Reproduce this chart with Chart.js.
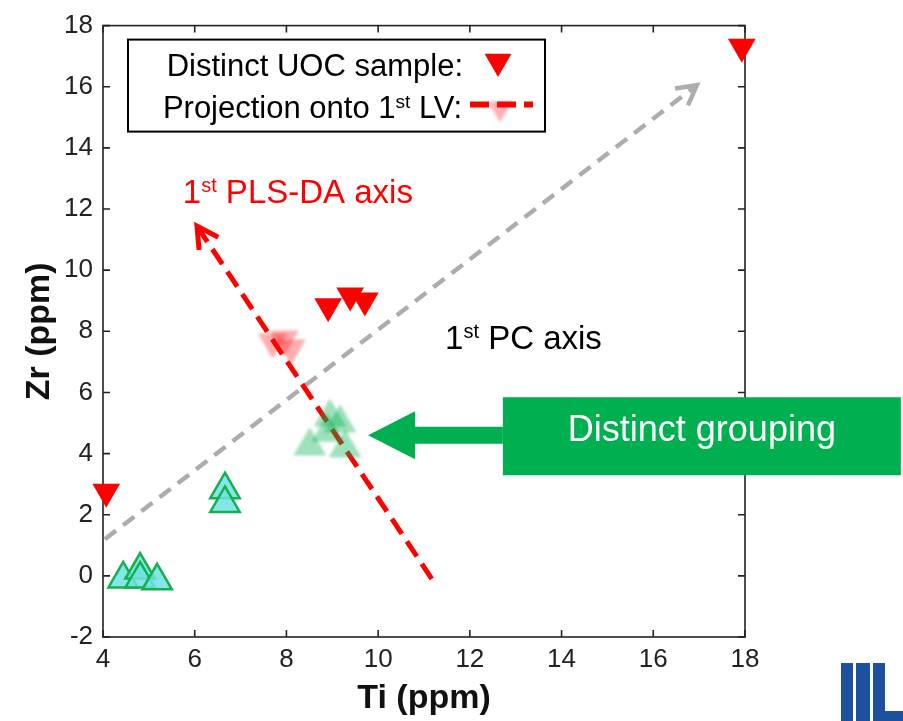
<!DOCTYPE html>
<html>
<head>
<meta charset="utf-8">
<title>Ti vs Zr</title>
<script src="https://cdn.jsdelivr.net/npm/chart.js@4.4.1/dist/chart.umd.min.js"></script>
<style>
  html, body { margin: 0; padding: 0; background: #fff; overflow: hidden; }
  #wrap { width: 903px; height: 721px; position: relative; }
</style>
</head>
<body>
<div id="wrap"><canvas id="chart"></canvas></div>
<script>
  // Ti / Zr concentrations (ppm)
  const uocTi = [4.07, 8.91, 9.39, 9.71, 17.93];
  const uocZr = [2.75, 8.82, 9.17, 9.01, 17.31];

  const projTi = [7.7, 7.95, 8.1];
  const projZr = [7.65, 7.75, 7.45];

  const groupTi = [8.95, 9.17, 8.9, 8.51, 9.28];
  const groupZr = [5.19, 5.0, 4.7, 4.25, 4.18];

  const otherTi = [6.66, 6.66, 4.44, 4.81, 4.81, 5.18];
  const otherZr = [2.82, 2.37, -0.1, 0.19, -0.1, -0.16];

  // axis directions, start -> arrow tip
  const pcAxisTi = [4.04, 16.95];
  const pcAxisZr = [1.2, 16.05];
  const plsAxisTi = [11.17, 6.05];
  const plsAxisZr = [-0.1, 11.44];

  // green callout arrow: tip, then tail where the label box starts
  const calloutTi = [9.78, 12.72];
  const calloutZr = [4.6, 4.6];

  const xTicks = [4, 6, 8, 10, 12, 14, 16, 18];
  const yTicks = [-2, 0, 2, 4, 6, 8, 10, 12, 14, 16, 18];

  const pts = (xs, ys) => xs.map((x, i) => ({ x, y: ys[i] }));

  const SANS = '"Liberation Sans", Arial, sans-serif';
  const tickFont = { family: SANS, size: 26 };
  const titleFont = { family: SANS, size: 34, weight: 'bold' };

  function tri(ctx, cx, cy, r, down) {
    const s = down ? -1 : 1;
    ctx.beginPath();
    ctx.moveTo(cx, cy - s * r);
    ctx.lineTo(cx + r * Math.sqrt(3) / 2, cy + s * r / 2);
    ctx.lineTo(cx - r * Math.sqrt(3) / 2, cy + s * r / 2);
    ctx.closePath();
  }

  // text with superscript pieces, e.g. [['1'], ['st', true], [' PC axis']]
  function richText(ctx, parts, x, y, size, align) {
    const supSize = Math.round(size * 0.6);
    const widths = parts.map(([t, sup]) => {
      ctx.font = (sup ? supSize : size) + 'px ' + SANS;
      return ctx.measureText(t).width;
    });
    const total = widths.reduce((a, b) => a + b, 0);
    let cx = align === 'right' ? x - total : x;
    ctx.textAlign = 'left';
    ctx.textBaseline = 'alphabetic';
    parts.forEach(([t, sup], i) => {
      ctx.font = (sup ? supSize : size) + 'px ' + SANS;
      ctx.fillText(t, cx, sup ? y - size * 0.32 : y);
      cx += widths[i];
    });
  }

  // box with inward ticks on all four sides
  const frame = {
    id: 'frame',
    beforeDatasetsDraw(chart) {
      const { ctx, chartArea: a, scales: { x, y } } = chart;
      ctx.save();
      ctx.strokeStyle = '#222';
      ctx.lineWidth = 1.6;
      ctx.strokeRect(a.left, a.top, a.right - a.left, a.bottom - a.top);
      ctx.beginPath();
      xTicks.forEach(v => {
        const px = x.getPixelForValue(v);
        ctx.moveTo(px, a.bottom); ctx.lineTo(px, a.bottom - 7);
        ctx.moveTo(px, a.top); ctx.lineTo(px, a.top + 7);
      });
      yTicks.forEach(v => {
        const py = y.getPixelForValue(v);
        ctx.moveTo(a.left, py); ctx.lineTo(a.left + 7, py);
        ctx.moveTo(a.right, py); ctx.lineTo(a.right - 7, py);
      });
      ctx.stroke();
      ctx.restore();
    }
  };

  // soft edges for the faded marker sets
  const soften = {
    id: 'soften',
    beforeDatasetDraw(chart, args) {
      if (!chart.data.datasets[args.index].soft) return;
      chart.ctx.save();
      chart.ctx.filter = 'blur(1.5px)';
    },
    afterDatasetDraw(chart, args) {
      if (!chart.data.datasets[args.index].soft) return;
      chart.ctx.restore();
    }
  };

  // arrow heads, callout, notes, legend and logo
  const overlay = {
    id: 'overlay',
    afterDatasetsDraw(chart) {
      const { ctx, scales: { x, y } } = chart;
      ctx.save();
      chart.data.datasets.forEach((ds, i) => {
        if (!ds.arrowHead) return;
        const pts = chart.getDatasetMeta(i).data;
        const p1 = pts[pts.length - 2], p2 = pts[pts.length - 1];
        const ang = Math.atan2(p2.y - p1.y, p2.x - p1.x);
        const len = ds.arrowHead;
        ctx.strokeStyle = ds.borderColor;
        ctx.lineWidth = ds.borderWidth;
        ctx.setLineDash([]);
        ctx.lineCap = 'butt';
        ctx.beginPath();
        ctx.moveTo(p2.x - len * Math.cos(ang - 0.5), p2.y - len * Math.sin(ang - 0.5));
        ctx.lineTo(p2.x, p2.y);
        ctx.lineTo(p2.x - len * Math.cos(ang + 0.5), p2.y - len * Math.sin(ang + 0.5));
        ctx.stroke();
      });

      // green callout
      const tx = x.getPixelForValue(calloutTi[0]);
      const ty = y.getPixelForValue(calloutZr[0]);
      const tail = x.getPixelForValue(calloutTi[1]);
      ctx.fillStyle = '#00b050';
      ctx.beginPath();
      ctx.moveTo(tx, ty);
      ctx.lineTo(tx + 47, ty - 24);
      ctx.lineTo(tx + 47, ty - 8.5);
      ctx.lineTo(tail, ty - 8.5);
      ctx.lineTo(tail, ty + 8.5);
      ctx.lineTo(tx + 47, ty + 8.5);
      ctx.lineTo(tx + 47, ty + 24);
      ctx.closePath();
      ctx.fill();
      ctx.fillRect(tail, ty - 38, 398, 78);
      ctx.fillStyle = '#fff';
      ctx.font = '36px ' + SANS;
      ctx.textAlign = 'center';
      ctx.textBaseline = 'middle';
      ctx.fillText('Distinct grouping', tail + 199, ty - 4);

      // axis notes
      ctx.fillStyle = '#ff0000';
      richText(ctx, [['1'], ['st', true], [' PLS-DA axis']], x.getPixelForValue(5.74), y.getPixelForValue(12.2), 33, 'left');
      ctx.fillStyle = '#000';
      richText(ctx, [['1'], ['st', true], [' PC axis']], x.getPixelForValue(11.46), y.getPixelForValue(7.42), 33, 'left');
      ctx.restore();
    },
    afterDraw(chart) {
      const { ctx, chartArea: a } = chart;
      ctx.save();
      // legend
      const lx = a.left + 25, ly = a.top + 14;
      ctx.fillStyle = '#fff';
      ctx.fillRect(lx, ly, 417, 92);
      ctx.strokeStyle = '#000';
      ctx.lineWidth = 2;
      ctx.strokeRect(lx, ly, 417, 92);
      ctx.fillStyle = '#000';
      richText(ctx, [['Distinct UOC sample:']], lx + 335, ly + 36, 31, 'right');
      richText(ctx, [['Projection onto 1'], ['st', true], [' LV:']], lx + 334, ly + 78, 31, 'right');
      ctx.fillStyle = '#ff0000';
      tri(ctx, lx + 370, ly + 22, 15.5, true);
      ctx.fill();
      ctx.save();
      ctx.filter = 'blur(1.5px)';
      ctx.fillStyle = 'rgba(255,0,0,0.3)';
      tri(ctx, lx + 372, ly + 69, 14, true);
      ctx.fill();
      ctx.restore();
      ctx.strokeStyle = '#ff0000';
      ctx.lineWidth = 6;
      ctx.setLineDash([19, 8]);
      ctx.beginPath();
      ctx.moveTo(lx + 342, ly + 65);
      ctx.lineTo(lx + 405, ly + 65);
      ctx.stroke();
      ctx.setLineDash([]);

      // logo corner
      ctx.fillStyle = '#1e50a0';
      ctx.fillRect(841, 663, 12, 58);
      ctx.fillRect(856, 663, 14, 58);
      ctx.fillRect(873, 663, 12, 58);
      ctx.fillRect(873, 711, 30, 10);
      ctx.restore();
    }
  };

  new Chart(document.getElementById('chart'), {
    type: 'scatter',
    data: {
      datasets: [
        {
          label: 'Distinct grouping',
          data: pts(groupTi, groupZr),
          pointStyle: 'triangle',
          pointRadius: 18,
          pointBackgroundColor: 'rgba(0,176,80,0.38)',
          pointBorderColor: 'rgba(0,176,80,0.25)',
          pointBorderWidth: 1,
          soft: true,
          clip: false,
          order: 0
        },
        {
          label: '1st PLS-DA axis',
          type: 'line',
          data: pts(plsAxisTi, plsAxisZr),
          borderColor: '#ff0000',
          borderWidth: 5,
          borderDash: [18, 9],
          pointRadius: 0,
          fill: false,
          arrowHead: 24,
          clip: false,
          order: 1
        },
        {
          label: '1st PC axis',
          type: 'line',
          data: pts(pcAxisTi, pcAxisZr),
          borderColor: '#adadad',
          borderWidth: 4.5,
          borderDash: [14, 9],
          pointRadius: 0,
          fill: false,
          arrowHead: 22,
          clip: false,
          order: 2
        },
        {
          label: 'Projection onto 1st LV',
          data: pts(projTi, projZr),
          pointStyle: 'triangle',
          pointRotation: 180,
          pointRadius: 17,
          pointBackgroundColor: 'rgba(255,0,0,0.32)',
          pointBorderWidth: 0,
          soft: true,
          clip: false,
          order: 3
        },
        {
          label: 'Distinct UOC sample',
          data: pts(uocTi, uocZr),
          pointStyle: 'triangle',
          pointRotation: 180,
          pointRadius: 16,
          pointBackgroundColor: '#ff0000',
          pointBorderWidth: 0,
          clip: false,
          order: 4
        },
        {
          label: 'Other samples',
          data: pts(otherTi, otherZr),
          pointStyle: 'triangle',
          pointRadius: 17,
          pointBackgroundColor: 'rgba(110,226,226,0.85)',
          pointBorderColor: '#12b04e',
          pointBorderWidth: 2.5,
          clip: false,
          order: 5
        }
      ]
    },
    options: {
      responsive: true,
      maintainAspectRatio: false,
      animation: false,
      layout: { padding: { left: 0, top: 20, right: 158, bottom: 0 } },
      plugins: { legend: { display: false }, tooltip: { enabled: false } },
      scales: {
        x: {
          type: 'linear',
          min: 4,
          max: 18,
          afterBuildTicks: s => { s.ticks = xTicks.map(v => ({ value: v })); },
          afterFit: s => { s.height = 84; },
          grid: { display: false, drawTicks: false },
          border: { display: false },
          ticks: { font: tickFont, color: '#222', padding: 7, maxRotation: 0 },
          title: { display: true, text: 'Ti (ppm)', font: titleFont, color: '#111', padding: { top: 0, bottom: 2 } }
        },
        y: {
          type: 'linear',
          min: -2,
          max: 18,
          afterBuildTicks: s => { s.ticks = yTicks.map(v => ({ value: v })); },
          afterFit: s => { s.width = 103; },
          grid: { display: false, drawTicks: false },
          border: { display: false },
          ticks: { font: tickFont, color: '#222', padding: 10 },
          title: { display: true, text: 'Zr (ppm)', font: titleFont, color: '#111', padding: { top: 19, bottom: 0 } }
        }
      }
    },
    plugins: [frame, soften, overlay]
  });
</script>
</body>
</html>
